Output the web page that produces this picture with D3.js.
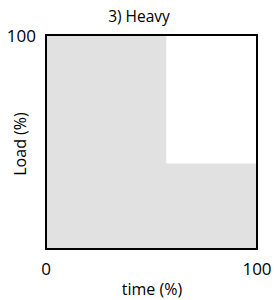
<!DOCTYPE html>
<html>
<head>
<meta charset="utf-8">
<script src="https://cdn.jsdelivr.net/npm/d3@7"></script>
<style>
  body { margin: 0; background: #fff; }
  text { font-family: "Open Sans", "Noto Sans", sans-serif; fill: #000; }
</style>
</head>
<body>
<div id="chart"></div>
<script>
// load profile: time (%) where each step starts, load (%) held until next step
const stepTime = [0, 57, 100];
const stepLoad = [100, 40, 40];
const xTicks = [0, 100];
const yTicks = [100];
const title = "3) Heavy";
const xLabel = "time (%)";
const yLabel = "Load (%)";

const width = 274, height = 300;
const marginTop = 35, marginRight = 17, marginBottom = 51, marginLeft = 46;

const svg = d3.select("#chart").append("svg")
    .attr("width", width)
    .attr("height", height);

const x = d3.scaleLinear().domain([0, 100]).range([marginLeft, width - marginRight]);
const y = d3.scaleLinear().domain([0, 100]).range([height - marginBottom, marginTop]);

const pts = stepTime.map((t, i) => [t, stepLoad[i]]);

const area = d3.area()
    .curve(d3.curveStepAfter)
    .x(d => x(d[0]))
    .y0(y(0))
    .y1(d => y(d[1]));

svg.append("path")
    .datum(pts)
    .attr("fill", "#e1e1e1")
    .attr("d", area);

// frame
svg.append("rect")
    .attr("x", x(0))
    .attr("y", y(100))
    .attr("width", x(100) - x(0))
    .attr("height", y(0) - y(100))
    .attr("fill", "none")
    .attr("stroke", "#000")
    .attr("stroke-width", 2);

svg.selectAll(".xt")
    .data(xTicks)
    .join("text")
    .attr("class", "xt")
    .attr("x", d => x(d))
    .attr("y", y(0) + 26)
    .attr("text-anchor", "middle")
    .attr("font-size", 17)
    .text(d => d);

svg.selectAll(".yt")
    .data(yTicks)
    .join("text")
    .attr("class", "yt")
    .attr("x", x(0) - 10)
    .attr("y", d => y(d) + 7)
    .attr("text-anchor", "end")
    .attr("font-size", 17)
    .text(d => d);

svg.append("text")
    .attr("x", 139)
    .attr("y", 22)
    .attr("text-anchor", "middle")
    .attr("font-size", 15.5)
    .text(title);

svg.append("text")
    .attr("x", 152)
    .attr("y", 295)
    .attr("text-anchor", "middle")
    .attr("font-size", 16)
    .text(xLabel);

svg.append("text")
    .attr("transform", `translate(26,144) rotate(-90)`)
    .attr("text-anchor", "middle")
    .attr("font-size", 16)
    .text(yLabel);
</script>
</body>
</html>
